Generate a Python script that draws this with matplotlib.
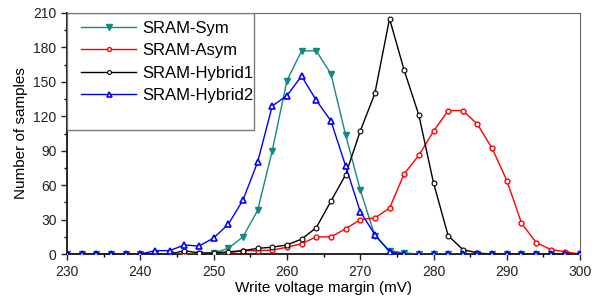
import matplotlib
matplotlib.use("Agg")
import matplotlib.pyplot as plt
from matplotlib.patches import Rectangle
import numpy as np

plt.rcParams['font.family'] = ['Liberation Sans', 'DejaVu Sans']

# write voltage margin (mV), 2 mV steps
margin = list(range(230, 301, 2))

sram_sym = [0, 0, 0, 0, 0, 0, 0, 0, 0, 0, 1, 5, 15, 38, 90, 151, 177, 177,
            157, 104, 56, 16, 3, 1, 0, 0, 0, 0, 0, 0, 0, 0, 0, 0, 0, 0]
sram_asym = [0, 0, 0, 0, 0, 0, 0, 0, 0, 0, 0, 1, 3, 3, 3.5, 6, 9, 15,
             15, 22, 30, 31.5, 40, 70, 86, 107, 125, 125, 113, 92, 64, 27, 10, 4, 2, 0]
sram_hybrid1 = [0, 0, 0, 0, 0, 0, 0, 0, 3, 1, 1, 2, 3, 5, 6, 8, 13, 23,
                46, 69, 107, 140, 205, 160, 121, 62, 16, 4, 1, 0, 0, 0, 0, 0, 0, 0]
sram_hybrid2 = [0, 0, 0, 0, 0, 0, 3, 3, 8, 7, 14, 26, 47, 80, 129, 138, 155, 134,
                116, 77, 37, 17, 2, 0, 0, 0, 0, 0, 0, 0, 0, 0, 0, 0, 0, 0]

fig = plt.figure(figsize=(5.95, 3.08), dpi=100)
ax = fig.add_axes([0.1126, 0.175, 0.8624, 0.783])

ax.plot(margin, sram_sym, color="#138a80", marker="v", markersize=5, lw=1.0,
        label="SRAM-Sym", zorder=3)
ax.plot(margin, sram_asym, color="#ff0000", marker="o", markersize=3.5, lw=1.0,
        markerfacecolor="white", markeredgewidth=1, label="SRAM-Asym", zorder=4)
ax.plot(margin, sram_hybrid1, color="black", marker="o", markersize=3.5, lw=1.0,
        markerfacecolor="white", markeredgewidth=0.8, label="SRAM-Hybrid1", zorder=5)
ax.plot(margin, sram_hybrid2, color="#0000ff", marker="^", markersize=4.5, lw=1.0,
        markerfacecolor="white", markeredgewidth=1.2, label="SRAM-Hybrid2", zorder=6)

ax.set_xlim(230, 300)
ax.set_ylim(0, 210)
ax.set_xticks(np.arange(230, 301, 10))
ax.set_xticks(np.arange(235, 300, 10), minor=True)
ax.set_yticks(np.arange(0, 211, 30))
ax.set_yticks(np.arange(15, 210, 30), minor=True)
ax.tick_params(which="major", direction="out", length=4, width=1, labelsize=10,
               colors="#222222")
ax.tick_params(which="minor", direction="out", length=2.5, width=1)
for s in ["left", "bottom"]:
    ax.spines[s].set_linewidth(1.2)
for s in ["top", "right"]:
    ax.spines[s].set_color("#666666")

ax.set_xlabel("Write voltage margin (mV)", fontsize=11, labelpad=2)
ax.set_ylabel("Number of samples", fontsize=11, labelpad=4)

leg = ax.legend(loc="upper left", bbox_to_anchor=(0.015, 0.995), frameon=False,
                fontsize=12, handlelength=3.3, labelspacing=0.45,
                handletextpad=0.35, borderaxespad=0.0, markerscale=0.8)
ax.add_patch(Rectangle((0.0, 0.515), 0.365, 0.485, transform=ax.transAxes,
                       fill=False, edgecolor="#777777", lw=1, zorder=7))

fig.savefig("out.png", dpi=100)
